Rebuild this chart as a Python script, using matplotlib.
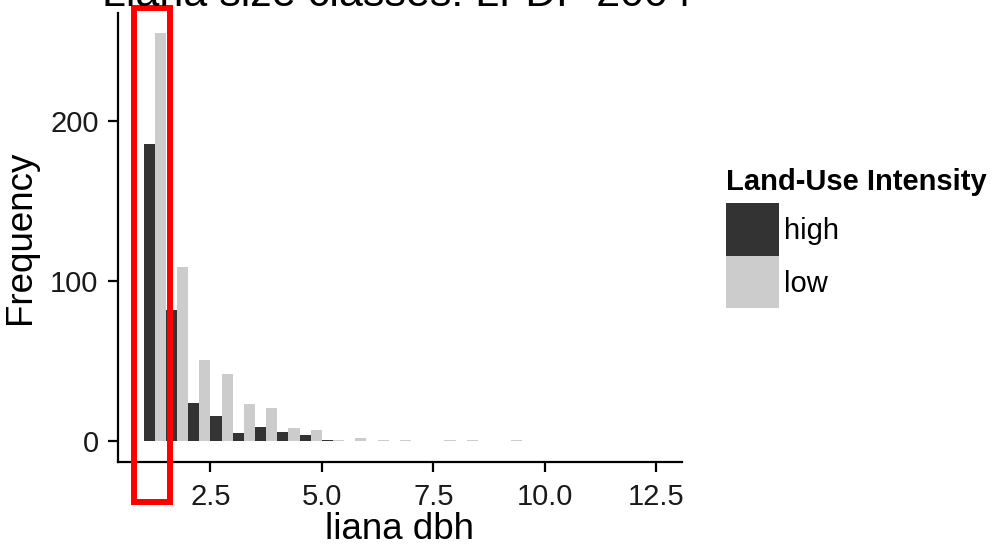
import matplotlib
matplotlib.use("Agg")
import matplotlib.pyplot as plt
from matplotlib.patches import Rectangle

plt.rcParams['font.family'] = ['Liberation Sans', 'DejaVu Sans']

# ---- data ----
bin_centers = [1.25, 1.75, 2.25, 2.75, 3.25, 3.75, 4.25, 4.75, 5.25,
               5.75, 6.25, 6.75, 7.25, 7.75, 8.25, 8.75, 9.25]
high_counts = [186, 82, 24, 16, 5, 9, 6, 4, 1, 0, 0, 0, 0, 0, 0, 0, 0]
low_counts = [255, 109, 51, 42, 23, 21, 8, 7, 1, 2, 1, 1, 0, 1, 1, 0, 1]
x_ticks = [2.5, 5.0, 7.5, 10.0, 12.5]
x_tick_labels = ["2.5", "5.0", "7.5", "10.0", "12.5"]
y_ticks = [0, 100, 200]
y_tick_labels = ["0", "100", "200"]
series_names = ["high", "low"]
series_colors = ["#333333", "#CCCCCC"]
title = "Liana size classes: LFDP 2004"
xlabel = "liana dbh"
ylabel = "Frequency"
legend_title = "Land-Use Intensity"

W, H = 993, 549
DPI = 100
fig = plt.figure(figsize=(W / DPI, H / DPI), dpi=DPI)

def fx(px):
    return px / W

def fy(py):
    return 1 - py / H

left, right, top, bottom = 118, 681.7, 12.7, 461.7
ax = fig.add_axes([fx(left), fy(bottom), fx(right - left), (bottom - top) / H])

bw = 0.25
ax.bar([c - bw / 2 for c in bin_centers], high_counts, width=bw,
       color=series_colors[0], linewidth=0)
ax.bar([c + bw / 2 for c in bin_centers], low_counts, width=bw,
       color=series_colors[1], linewidth=0)

ax.set_xlim(0.425, 13.075)
ax.set_ylim(-12.75, 267.75)
ax.set_xticks(x_ticks)
ax.set_xticklabels(x_tick_labels)
ax.set_yticks(y_ticks)
ax.set_yticklabels(y_tick_labels)

for s in ['top', 'right']:
    ax.spines[s].set_visible(False)
for s in ['left', 'bottom']:
    ax.spines[s].set_linewidth(1.6)
    ax.spines[s].set_color('black')
ax.tick_params(axis='both', length=7, width=1.6, labelsize=21, color='black',
               labelcolor='#1a1a1a')
ax.tick_params(axis='x', pad=8)
ax.tick_params(axis='y', pad=7)

ax.set_xlabel(xlabel, fontsize=26.5, labelpad=1)
ax.set_ylabel(ylabel, fontsize=26.5, labelpad=9)

# title (mostly clipped at the top, as in the reference)
fig.text(fx((left + right) / 2 - 3), fy(6.5), title, fontsize=31,
         ha='center', va='baseline')

# legend
fig.text(fx(726), fy(190), legend_title, fontsize=21, fontweight='bold',
         ha='left', va='baseline')
key_x, key_w, key_h = 726, 53, 52.5
key_tops = [203, 255.5]
for name, col, kt in zip(series_names, series_colors, key_tops):
    fig.patches.append(Rectangle((fx(key_x), fy(kt + key_h)), fx(key_w), key_h / H,
                                 transform=fig.transFigure, facecolor=col,
                                 edgecolor='none'))
    fig.text(fx(key_x + key_w + 5), fy(kt + key_h / 2 + 2), name, fontsize=21,
             ha='left', va='center')

# red highlight rectangle
fig.patches.append(Rectangle((fx(133.7), fy(502)), fx(169.7 - 133.7), (502 - 7.7) / H,
                             transform=fig.transFigure, facecolor='none',
                             edgecolor='#ff0000', linewidth=4.3, clip_on=False))

fig.savefig("out.png", dpi=DPI)
